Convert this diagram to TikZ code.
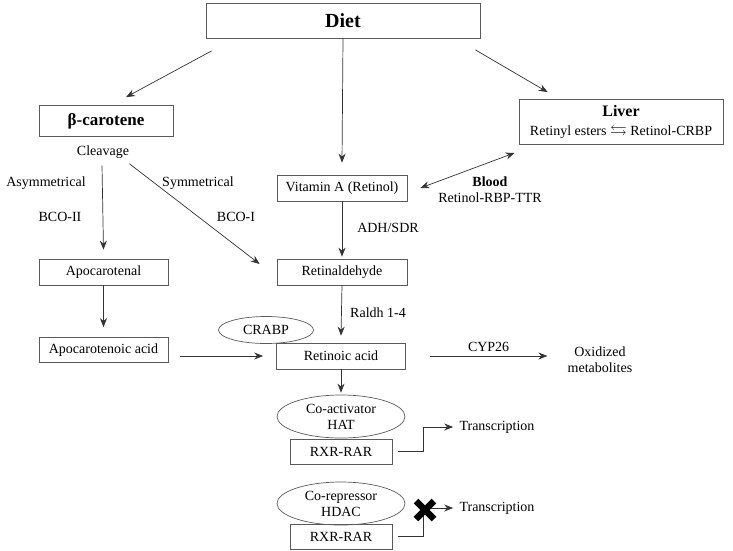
\documentclass[tikz,border=0pt]{standalone}
\usepackage{fontspec}
\setmainfont{Liberation Serif}
\usepackage{amssymb}
\usetikzlibrary{arrows.meta}
\usetikzlibrary{shapes.geometric}
\definecolor{linegray}{HTML}{333333}
\definecolor{boxgray}{HTML}{5A5A5A}

\begin{document}
\begin{tikzpicture}[->, >={Stealth[length=9pt,width=7pt]}, x=1pt, y=-1pt,
    line width=0.7pt, draw=linegray, font=\fontsize{14}{16}\selectfont,
    box/.style = {draw=boxgray, inner sep=0pt, minimum height=26pt, align=center},
    oval/.style = {draw=boxgray, ellipse, inner sep=0pt, align=center},
    txt/.style = {inner sep=1pt, align=center}]
    \useasboundingbox (0,0) rectangle (733,550);

    % Boxes
    \node[box, minimum width=274pt, minimum height=35pt, font=\fontsize{20}{22}\selectfont\bfseries] (diet) at (343,21) {Diet};
    \node[box, minimum width=134pt, minimum height=31pt, font=\fontsize{17}{19}\selectfont\bfseries] (carot) at (106,121) {β-carotene};
    \node[box, minimum width=204pt, minimum height=45pt] (liver) at (621,122) {{\fontsize{16}{18}\selectfont\bfseries Liver}\\[3.5pt] Retinyl esters \scalebox{1.2}[1.1]{$\leftrightarrows$} Retinol-CRBP};
    \node[box, minimum width=130pt] (vitA) at (342,188) {Vitamin A (Retinol)};
    \node[box, minimum width=130pt] (retinal) at (342,272) {Retinaldehyde};
    \node[box, minimum width=129pt] (apocal) at (103.5,272) {Apocarotenal};
    \node[box, minimum width=129pt, minimum height=25pt] (apocacid) at (103.5,350) {Apocarotenoic acid};
    \node[box, minimum width=129pt] (RA) at (341,356) {Retinoic acid};
    \node[oval, minimum width=95pt, minimum height=27pt] (crabp) at (266,330) {CRABP};

    \node[oval, minimum width=128pt, minimum height=43pt] (coact) at (341,416.5) {Co-activator\\HAT};
    \node[box, minimum width=102pt, minimum height=25pt] (rxr1) at (341,451.5) {RXR-RAR};
    \node[oval, minimum width=128pt, minimum height=43pt] (corep) at (341,503.5) {Co-repressor\\HDAC};
    \node[box, minimum width=102pt, minimum height=25pt] (rxr2) at (341,536.5) {RXR-RAR};

    % Labels
    \node[txt] (cleav) at (103,152) {Cleavage};
    \node[txt] (asym) at (46,183) {Asymmetrical};
    \node[txt] (sym) at (198,183) {Symmetrical};
    \node[txt] (bco2) at (60,217) {BCO-II};
    \node[txt] (bco1) at (236,217) {BCO-I};
    \node[txt] (adh) at (388,228) {ADH/SDR};
    \node[txt] (raldh) at (378,313) {Raldh 1-4};
    \node[txt] (blood) at (490,189.5) {\textbf{Blood}\\Retinol-RBP-TTR};
    \node[txt] (oxid) at (600,360) {Oxidized\\metabolites};
    \node[txt] (trans1) at (497,427) {Transcription};
    \node[txt] (trans2) at (497,508) {Transcription};

    % Edges
    \draw ([xshift=6,yshift=-12]diet.south west) -- ([xshift=20,yshift=8]carot.north);
    \draw (diet.south) -- ([yshift=12]vitA.north);
    \draw ([xshift=-5,yshift=-11]diet.south east) -- ([xshift=29,yshift=7]liver.north west);
    \draw ([xshift=-1,yshift=-6]cleav.south) -- ([yshift=9]apocal.north);
    \draw ([xshift=-1,yshift=-4]cleav.south east) -- ([xshift=-17,yshift=8]retinal.west);
    \draw (apocal.south) -- ([yshift=10]apocacid.north);
    \draw ([xshift=12,yshift=-6]apocacid.east) -- ([xshift=-13]RA.west);
    \draw (vitA.south) -- ([yshift=2]retinal.north);
    \draw (retinal.south) -- ([yshift=7]RA.north);
    \draw (RA.south) -- ([yshift=2]coact.north);
    \draw[<->] ([xshift=13]vitA.east) -- ([xshift=-4,yshift=-8]liver.south west);
    \draw ([xshift=24]RA.east) -- node[txt, above=3pt] (cyp) {CYP26} ([xshift=-19,yshift=4]oxid.west);

    \draw ([xshift=6]rxr1.east) -- ++(25,0) |- ([xshift=-5]trans1.west);
    \draw ([xshift=6]rxr2.east) -- ++(25,0) |- ([xshift=-5]trans2.west);

    % Block
    \draw[-, line width=6.5pt, black] (416,501) -- (434,519) (416,519) -- (434,501);

\end{tikzpicture}
\end{document}
